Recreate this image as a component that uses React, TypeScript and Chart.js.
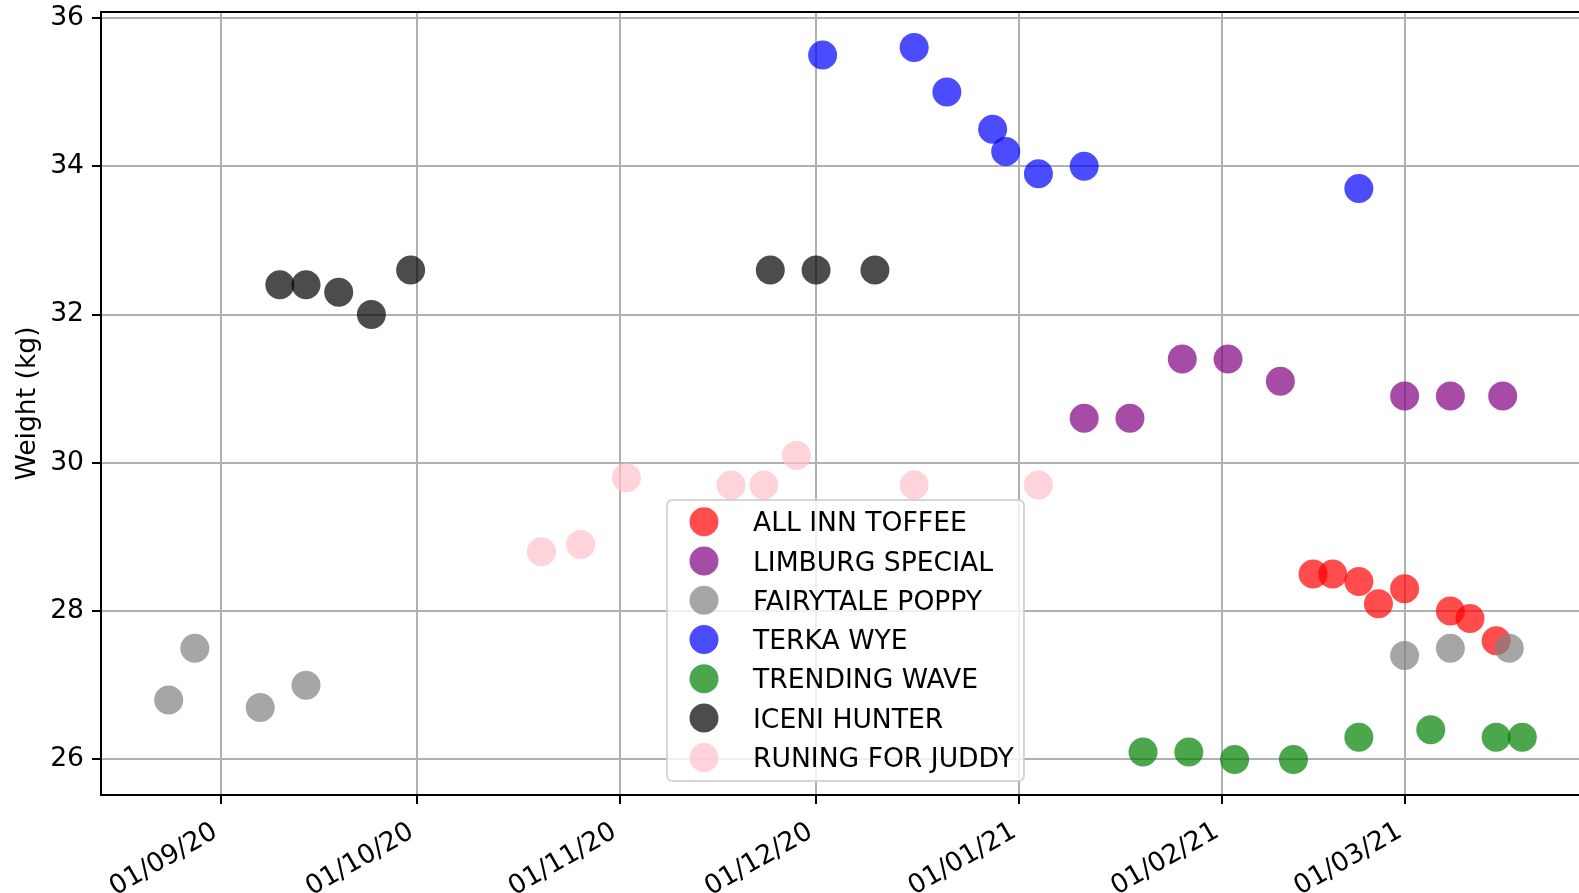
import React, { useEffect, useRef } from "react";
import { Chart, registerables } from "chart.js";

Chart.register(...registerables);

// ---- data ----
const seriesNames = [
  "ALL INN TOFFEE",
  "LIMBURG SPECIAL",
  "FAIRYTALE POPPY",
  "TERKA WYE",
  "TRENDING WAVE",
  "ICENI HUNTER",
  "RUNING FOR JUDDY",
];

const toffeeDates = ["2021-02-15", "2021-02-18", "2021-02-22", "2021-02-25", "2021-03-01", "2021-03-08", "2021-03-11", "2021-03-15"];
const toffeeWeights = [28.5, 28.5, 28.4, 28.1, 28.3, 28.0, 27.9, 27.6];

const limburgDates = ["2021-01-11", "2021-01-18", "2021-01-26", "2021-02-02", "2021-02-10", "2021-03-01", "2021-03-08", "2021-03-16"];
const limburgWeights = [30.6, 30.6, 31.4, 31.4, 31.1, 30.9, 30.9, 30.9];

const poppyDates = ["2020-08-24", "2020-08-28", "2020-09-07", "2020-09-14", "2021-03-01", "2021-03-08", "2021-03-17"];
const poppyWeights = [26.8, 27.5, 26.7, 27.0, 27.4, 27.5, 27.5];

const terkaDates = ["2020-12-02", "2020-12-16", "2020-12-21", "2020-12-28", "2020-12-30", "2021-01-04", "2021-01-11", "2021-02-22"];
const terkaWeights = [35.5, 35.6, 35.0, 34.5, 34.2, 33.9, 34.0, 33.7];

const trendingDates = ["2021-01-20", "2021-01-27", "2021-02-03", "2021-02-12", "2021-02-22", "2021-03-05", "2021-03-15", "2021-03-19"];
const trendingWeights = [26.1, 26.1, 26.0, 26.0, 26.3, 26.4, 26.3, 26.3];

const iceniDates = ["2020-09-10", "2020-09-14", "2020-09-19", "2020-09-24", "2020-09-30", "2020-11-24", "2020-12-01", "2020-12-10"];
const iceniWeights = [32.4, 32.4, 32.3, 32.0, 32.6, 32.6, 32.6, 32.6];

const judyDates = ["2020-10-20", "2020-10-26", "2020-11-02", "2020-11-18", "2020-11-23", "2020-11-28", "2020-12-16", "2021-01-04"];
const judyWeights = [28.8, 28.9, 29.8, 29.7, 29.7, 30.1, 29.7, 29.7];

const seriesDates = [toffeeDates, limburgDates, poppyDates, terkaDates, trendingDates, iceniDates, judyDates];
const seriesWeights = [toffeeWeights, limburgWeights, poppyWeights, terkaWeights, trendingWeights, iceniWeights, judyWeights];

const seriesColors = [
  "rgba(255,0,0,0.7)",
  "rgba(128,0,128,0.7)",
  "rgba(128,128,128,0.7)",
  "rgba(0,0,255,0.7)",
  "rgba(0,128,0,0.7)",
  "rgba(0,0,0,0.7)",
  "rgba(255,192,203,0.7)",
];

const xTickDates = ["2020-09-01", "2020-10-01", "2020-11-01", "2020-12-01", "2021-01-01", "2021-02-01", "2021-03-01"];
const xTickLabels = ["01/09/20", "01/10/20", "01/11/20", "01/12/20", "01/01/21", "01/02/21", "01/03/21"];
const yTicks = [26, 28, 30, 32, 34, 36];
const yLabel = "Weight (kg)";

// ---- helpers ----
const FONT = "DejaVu Sans";
const FS = 26.6;
const ORIGIN = Date.UTC(2020, 8, 1);
const toDay = (s: string) => {
  const [y, m, d] = s.split("-").map(Number);
  return (Date.UTC(y, m - 1, d) - ORIGIN) / 86400000;
};

const allX = seriesDates.flat().map(toDay);
const allY = seriesWeights.flat();
const xMinD = Math.min(...allX), xMaxD = Math.max(...allX);
const yMinD = Math.min(...allY), yMaxD = Math.max(...allY);
const xPad = (xMaxD - xMinD) * 0.05;
const yPad = (yMaxD - yMinD) * 0.05;

const overlayPlugin = {
  id: "mplOverlay",
  afterDraw(chart: any) {
    const ctx = chart.ctx;
    const { top, right, left, bottom } = chart.chartArea;
    ctx.save();
    // top / right spines
    ctx.strokeStyle = "#000";
    ctx.lineWidth = 2;
    ctx.beginPath();
    ctx.moveTo(left - 1, top);
    ctx.lineTo(right, top);
    ctx.lineTo(right, bottom);
    ctx.stroke();

    // rotated x tick labels (matplotlib style: bbox top-right at tick)
    const xs = chart.scales.x;
    const th = (30 * Math.PI) / 180;
    const cos = Math.cos(th), sin = Math.sin(th);
    ctx.font = `${FS}px "${FONT}"`;
    ctx.fillStyle = "#000";
    ctx.textAlign = "left";
    ctx.textBaseline = "alphabetic";
    const y0 = bottom + 24;
    const A = 0.76 * FS;
    const D = 0.208 * FS;
    xTickDates.forEach((d, i) => {
      const label = xTickLabels[i];
      const px = xs.getPixelForValue(toDay(d));
      const m = ctx.measureText(label);
      const xR = m.actualBoundingBoxRight;
      const ax = px - (xR * cos + D * sin);
      const ay = y0 + (xR * sin + A * cos);
      ctx.save();
      ctx.translate(ax, ay);
      ctx.rotate(-th);
      ctx.fillText(label, 0, 0);
      ctx.restore();
    });

    // legend box
    const bx = 667, by = 500, bw = 357, bh = 281, r = 6;
    ctx.beginPath();
    ctx.moveTo(bx + r, by);
    ctx.lineTo(bx + bw - r, by);
    ctx.quadraticCurveTo(bx + bw, by, bx + bw, by + r);
    ctx.lineTo(bx + bw, by + bh - r);
    ctx.quadraticCurveTo(bx + bw, by + bh, bx + bw - r, by + bh);
    ctx.lineTo(bx + r, by + bh);
    ctx.quadraticCurveTo(bx, by + bh, bx, by + bh - r);
    ctx.lineTo(bx, by + r);
    ctx.quadraticCurveTo(bx, by, bx + r, by);
    ctx.closePath();
    ctx.fillStyle = "rgba(255,255,255,0.8)";
    ctx.fill();
    ctx.strokeStyle = "rgba(204,204,204,0.8)";
    ctx.lineWidth = 2;
    ctx.stroke();

    ctx.font = `${FS}px "${FONT}"`;
    ctx.textAlign = "left";
    ctx.textBaseline = "alphabetic";
    seriesNames.forEach((name, i) => {
      const cy = 521.7 + i * 39.28;
      ctx.beginPath();
      ctx.arc(704, cy, 14.5, 0, Math.PI * 2);
      ctx.fillStyle = seriesColors[i];
      ctx.fill();
      ctx.fillStyle = "#000";
      ctx.fillText(name, 753, cy + 9.6);
    });
    ctx.restore();
  },
};

export default function App() {
  const ref = useRef<HTMLCanvasElement | null>(null);

  useEffect(() => {
    document.body.style.margin = "0";
    const canvas = ref.current;
    if (!canvas) return;

    const datasets = seriesNames.map((name, i) => ({
      label: name,
      data: seriesDates[i].map((d, j) => ({ x: toDay(d), y: seriesWeights[i][j] })),
      backgroundColor: seriesColors[i],
      borderColor: seriesColors[i],
      borderWidth: 0,
      pointRadius: 14.5,
      pointHoverRadius: 14.5,
      pointBorderWidth: 0,
      showLine: false,
      order: seriesNames.length - i,
    }));

    const chart = new Chart(canvas, {
      type: "scatter",
      data: { datasets },
      plugins: [overlayPlugin],
      options: {
        animation: false,
        responsive: false,
        devicePixelRatio: 1,
        layout: { autoPadding: false, padding: { top: 12, left: 0, right: 0, bottom: 0 } },
        plugins: {
          legend: { display: false },
          tooltip: { enabled: false },
          title: { display: false },
        },
        scales: {
          x: {
            type: "linear",
            min: xMinD - xPad,
            max: xMaxD + xPad,
            afterBuildTicks: (scale: any) => {
              scale.ticks = xTickDates.map((d) => ({ value: toDay(d) }));
            },
            afterFit: (scale: any) => {
              scale.height = 98;
              scale.paddingLeft = 0;
              scale.paddingRight = 0;
            },
            ticks: {
              autoSkip: false,
              maxRotation: 0,
              minRotation: 0,
              color: "rgba(0,0,0,0)",
              font: { family: FONT, size: FS },
              callback: (_v: any, i: number) => xTickLabels[i],
            },
            grid: {
              color: "#b0b0b0",
              lineWidth: 2,
              drawTicks: true,
              tickLength: 9,
              tickColor: "#000",
              tickWidth: 2,
            },
            border: { color: "#000", width: 2 },
          },
          y: {
            type: "linear",
            min: yMinD - yPad,
            max: yMaxD + yPad,
            afterBuildTicks: (scale: any) => {
              scale.ticks = yTicks.map((v) => ({ value: v }));
            },
            afterFit: (scale: any) => {
              scale.width = 101;
              scale.paddingTop = 0;
              scale.paddingBottom = 0;
            },
            ticks: {
              padding: 8,
              color: "#000",
              font: { family: FONT, size: FS },
              callback: (v: any) => String(v),
            },
            grid: {
              color: "#b0b0b0",
              lineWidth: 2,
              drawTicks: true,
              tickLength: 9,
              tickColor: "#000",
              tickWidth: 2,
            },
            border: { color: "#000", width: 2 },
            title: {
              display: true,
              text: yLabel,
              color: "#000",
              font: { family: FONT, size: FS },
              padding: { top: 12, bottom: 0 },
            },
          },
        },
      },
    });

    return () => chart.destroy();
  }, []);

  return (
    <div style={{ width: 1579, height: 893, overflow: "hidden", position: "relative" }}>
      <canvas ref={ref} width={1590} height={893} style={{ width: 1590, height: 893, display: "block" }} />
    </div>
  );
}
